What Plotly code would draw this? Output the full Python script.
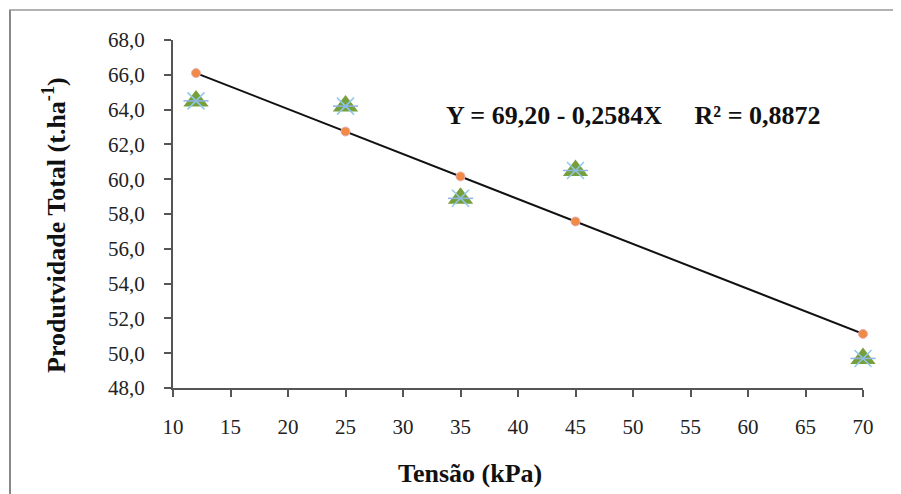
import plotly.graph_objects as go

tensao = [12, 25, 35, 45, 70]
observado = [64.5, 64.2, 58.9, 60.5, 49.7]
estimado = [66.10, 62.74, 60.16, 57.57, 51.11]

x_ticks = [10, 15, 20, 25, 30, 35, 40, 45, 50, 55, 60, 65, 70]
y_ticks = [48, 50, 52, 54, 56, 58, 60, 62, 64, 66, 68]

SERIF = "Liberation Serif, Times New Roman, serif"

# page offset (body margin 8px)
OX, OY = 8, 8
W, H = 893, 486
PW = 863 - 173
PH = 388 - 40


def px(xp):
    return (xp - 173) / PW


def py(yp):
    return (388 - yp) / PH


fig = go.Figure()

fig.add_trace(go.Scatter(x=tensao, y=estimado, mode="lines",
                         line=dict(color="#111111", width=2), showlegend=False,
                         cliponaxis=False))
fig.add_trace(go.Scatter(x=tensao, y=estimado, mode="markers",
                         marker=dict(symbol="circle", size=9, color="#F08A45",
                                     line=dict(color="#E8B0B8", width=1)),
                         showlegend=False, cliponaxis=False))
fig.add_trace(go.Scatter(x=tensao, y=observado, mode="markers",
                         marker=dict(symbol="triangle-up", size=22, color="#77A03C",
                                     line=dict(width=0)),
                         showlegend=False, cliponaxis=False))
fig.add_trace(go.Scatter(x=tensao, y=observado, mode="markers",
                         marker=dict(symbol="x-thin-open", size=17, color="#8EC8EC",
                                     line=dict(color="#8EC8EC", width=1.5)),
                         showlegend=False, cliponaxis=False))
fig.add_trace(go.Scatter(x=tensao, y=observado, mode="markers",
                         marker=dict(symbol="line-ew-open", size=18, color="#8EB4E8",
                                     line=dict(color="#8EB4E8", width=1.5)),
                         showlegend=False, cliponaxis=False))

fig.update_layout(
    width=W, height=H,
    margin=dict(l=173 - OX, r=W - (863 - OX), t=40 - OY, b=H - (388 - OY)),
    paper_bgcolor="white", plot_bgcolor="white",
    separators=",.",
    font=dict(family=SERIF, size=16, color="#222222"),
    xaxis=dict(range=[10, 70], tickvals=x_ticks, showgrid=False, zeroline=False,
               showline=True, linecolor="#555555", linewidth=2,
               ticks="outside", ticklen=7, tickwidth=2, tickcolor="#555555",
               ticklabelstandoff=12,
               tickfont=dict(family=SERIF, size=21, color="#222222")),
    yaxis=dict(range=[48, 68], tickvals=y_ticks, tickformat=".1f", showgrid=False,
               zeroline=False, showline=True, linecolor="#555555", linewidth=2,
               ticks="outside", ticklen=7, tickwidth=2, tickcolor="#555555",
               ticklabelstandoff=15,
               tickfont=dict(family=SERIF, size=21, color="#222222")),
    shapes=[
        dict(type="line", xref="paper", yref="paper",
             x0=px(10), x1=px(10), y0=py(530), y1=py(10),
             line=dict(color="#888888", width=2), layer="below"),
        dict(type="line", xref="paper", yref="paper",
             x0=px(9), x1=px(905), y0=py(10), y1=py(10),
             line=dict(color="#999999", width=1.5), layer="below"),
    ],
    annotations=[
        dict(text="<b>Tensão (kPa)</b>", xref="paper", yref="paper",
             x=px(470), y=py(473), showarrow=False,
             xanchor="center", yanchor="middle",
             font=dict(family=SERIF, size=26, color="#111111")),
        dict(text="<b>Produtvidade Total (t.ha<sup>-1</sup>)</b>", xref="paper", yref="paper",
             x=px(55), y=py(225), showarrow=False, textangle=-90,
             xanchor="center", yanchor="middle",
             font=dict(family=SERIF, size=26, color="#111111")),
        dict(text="<b>Y = 69,20 - 0,2584X     R² = 0,8872</b>", xref="paper", yref="paper",
             x=px(633), y=py(116), showarrow=False,
             xanchor="center", yanchor="middle",
             font=dict(family=SERIF, size=26, color="#111111")),
    ],
)

fig.write_html("out.html")
